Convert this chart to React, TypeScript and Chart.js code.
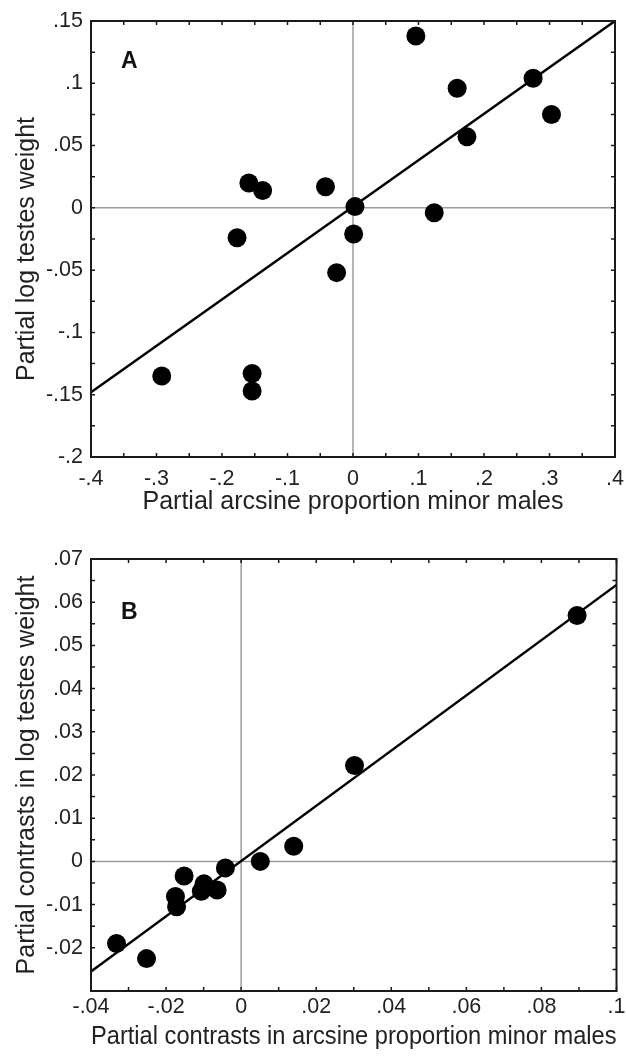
import React, { useEffect, useRef } from "react";
import { Chart, registerables } from "chart.js";

Chart.register(...registerables);

// ---------- Panel A data ----------
const pointsAX = [0.096, 0.159, 0.275, 0.303, 0.174, -0.159, -0.138, -0.042, 0.003, 0.124, -0.177, 0.001, -0.025, -0.292, -0.154, -0.154];
const pointsAY = [0.138, 0.096, 0.104, 0.075, 0.057, 0.020, 0.014, 0.017, 0.001, -0.004, -0.024, -0.021, -0.052, -0.135, -0.133, -0.147];
const fitAX = [-0.4, 0.4];
const fitAY = [-0.148, 0.15];

// ---------- Panel B data ----------
const pointsBX = [0.0895, 0.0302, 0.014, 0.0051, -0.0042, -0.0152, -0.0099, -0.0106, -0.0064, -0.0175, -0.0172, -0.0332, -0.0252];
const pointsBY = [0.0569, 0.0222, 0.0035, 0.0, -0.0015, -0.0034, -0.0052, -0.0069, -0.0066, -0.0081, -0.0105, -0.019, -0.0225];
const fitBX = [-0.04, 0.1];
const fitBY = [-0.0255, 0.064];

const FONT = "'Liberation Sans', Arial, Helvetica, sans-serif";
const TEXT = "#222";

function fmt(v: number): string {
  const n = Number(Number(v).toFixed(4));
  if (Math.abs(n) < 1e-9) return "0";
  return String(n).replace(/^(-?)0\./, "$1.");
}

const framePlugin = {
  id: "frame",
  beforeDatasetsDraw(chart: any) {
    const { ctx, chartArea: a, scales } = chart;
    const x0 = scales.x.getPixelForValue(0);
    const y0 = scales.y.getPixelForValue(0);
    ctx.save();
    ctx.strokeStyle = "#9c9c9c";
    ctx.lineWidth = 1.5;
    ctx.beginPath();
    ctx.moveTo(x0, a.top);
    ctx.lineTo(x0, a.bottom);
    ctx.moveTo(a.left, y0);
    ctx.lineTo(a.right, y0);
    ctx.stroke();
    ctx.restore();
  },
  afterDraw(chart: any, _args: any, opts: any) {
    const { ctx, chartArea: a, scales } = chart;
    const xs = scales.x;
    const ys = scales.y;
    ctx.save();
    ctx.strokeStyle = "#1a1a1a";
    ctx.lineWidth = 1.5;
    const tl = 4;
    ctx.beginPath();
    for (let v = xs.min; v <= xs.max + 1e-9; v += opts.xMinor) {
      const px = xs.getPixelForValue(v);
      ctx.moveTo(px, a.top);
      ctx.lineTo(px, a.top + tl);
      ctx.moveTo(px, a.bottom);
      ctx.lineTo(px, a.bottom - tl);
    }
    for (let v = ys.min; v <= ys.max + 1e-9; v += opts.yMinor) {
      const py = ys.getPixelForValue(v);
      ctx.moveTo(a.left, py);
      ctx.lineTo(a.left + tl, py);
      ctx.moveTo(a.right, py);
      ctx.lineTo(a.right - tl, py);
    }
    ctx.stroke();
    ctx.lineWidth = 2;
    ctx.strokeRect(a.left, a.top, a.right - a.left, a.bottom - a.top);

    // panel letter
    ctx.fillStyle = "#111";
    ctx.font = `bold 23px ${FONT}`;
    ctx.textAlign = "left";
    ctx.textBaseline = "middle";
    ctx.fillText(opts.letter, a.left + 30, a.top + opts.letterDy);

    // y-axis title
    ctx.fillStyle = TEXT;
    ctx.font = `25px ${FONT}`;
    ctx.textAlign = "center";
    ctx.textBaseline = "middle";
    ctx.translate(27, (a.top + a.bottom) / 2 + opts.yTitleDy);
    ctx.rotate(-Math.PI / 2);
    ctx.fillText(opts.yTitle, 0, 0);
    ctx.restore();
  },
};

type PanelCfg = {
  xs: number[];
  ys: number[];
  fx: number[];
  fy: number[];
  xMin: number;
  xMax: number;
  xStep: number;
  xMinor: number;
  yMin: number;
  yMax: number;
  yStep: number;
  yMinor: number;
  xTitle: string;
  yTitle: string;
  yTitleDy: number;
  letter: string;
  letterDy: number;
  height: number;
  padTop: number;
  padRight: number;
  xAxisH: number;
  xTickPad: number;
  xTitlePad: number;
  hideYMin: boolean;
};

function Panel({ cfg, top }: { cfg: PanelCfg; top: number }) {
  const ref = useRef<HTMLCanvasElement | null>(null);
  useEffect(() => {
    if (!ref.current) return;
    const pts = cfg.xs.map((x, i) => ({ x, y: cfg.ys[i] }));
    const fit = cfg.fx.map((x, i) => ({ x, y: cfg.fy[i] }));
    const chart = new Chart(ref.current, {
      type: "scatter",
      data: {
        datasets: [
          {
            type: "line",
            data: fit,
            borderColor: "#000",
            borderWidth: 2.5,
            pointRadius: 0,
            fill: false,
          } as any,
          {
            data: pts,
            backgroundColor: "#000",
            borderWidth: 0,
            pointRadius: 9.5,
            pointHoverRadius: 9.5,
          },
        ],
      },
      options: {
        responsive: false,
        animation: false,
        devicePixelRatio: 1,
        layout: { padding: { top: cfg.padTop, right: cfg.padRight, left: 0, bottom: 0 } },
        plugins: {
          legend: { display: false },
          tooltip: { enabled: false },
          frame: {
            xMinor: cfg.xMinor,
            yMinor: cfg.yMinor,
            letter: cfg.letter,
            letterDy: cfg.letterDy,
            yTitle: cfg.yTitle,
            yTitleDy: cfg.yTitleDy,
          },
        } as any,
        scales: {
          x: {
            type: "linear",
            min: cfg.xMin,
            max: cfg.xMax,
            grid: { display: false, drawTicks: false },
            border: { display: false },
            ticks: {
              stepSize: cfg.xStep,
              autoSkip: false,
              maxRotation: 0,
              padding: cfg.xTickPad,
              color: TEXT,
              font: { family: FONT, size: 21.5 },
              callback: (v: any) => fmt(v),
            },
            title: {
              display: true,
              text: cfg.xTitle,
              color: TEXT,
              font: { family: FONT, size: 25 },
              padding: { top: 0, bottom: cfg.xTitlePad },
            },
            afterFit: (s: any) => {
              s.height = cfg.xAxisH;
              s.paddingLeft = 0;
              s.paddingRight = 0;
            },
          },
          y: {
            type: "linear",
            min: cfg.yMin,
            max: cfg.yMax,
            grid: { display: false, drawTicks: false },
            border: { display: false },
            ticks: {
              stepSize: cfg.yStep,
              autoSkip: false,
              padding: 8,
              color: TEXT,
              font: { family: FONT, size: 21.5 },
              callback: (v: any) => {
                if (cfg.hideYMin && Math.abs(v - cfg.yMin) < 1e-9) return "";
                return fmt(v);
              },
            },
            title: { display: false },
            afterFit: (s: any) => {
              s.width = 91;
              s.paddingTop = 0;
              s.paddingBottom = 0;
            },
          },
        },
      },
      plugins: [framePlugin as any],
    });
    return () => chart.destroy();
  }, []);
  return (
    <canvas
      ref={ref}
      width={626}
      height={cfg.height}
      style={{ position: "absolute", left: 0, top, width: 626, height: cfg.height, display: "block" }}
    />
  );
}

const cfgA: PanelCfg = {
  xs: pointsAX,
  ys: pointsAY,
  fx: fitAX,
  fy: fitAY,
  xMin: -0.4,
  xMax: 0.4,
  xStep: 0.1,
  xMinor: 0.05,
  yMin: -0.2,
  yMax: 0.15,
  yStep: 0.05,
  yMinor: 0.025,
  xTitle: "Partial arcsine proportion minor males",
  yTitle: "Partial log testes weight",
  yTitleDy: 10,
  letter: "A",
  letterDy: 41,
  height: 530,
  padTop: 21,
  padRight: 11,
  xAxisH: 73,
  xTickPad: 9,
  xTitlePad: 13,
  hideYMin: false,
};

const cfgB: PanelCfg = {
  xs: pointsBX,
  ys: pointsBY,
  fx: fitBX,
  fy: fitBY,
  xMin: -0.04,
  xMax: 0.1,
  xStep: 0.02,
  xMinor: 0.01,
  yMin: -0.03,
  yMax: 0.07,
  yStep: 0.01,
  yMinor: 0.005,
  xTitle: "Partial contrasts in arcsine proportion minor males",
  yTitle: "Partial contrasts in log testes weight",
  yTitleDy: 0,
  letter: "B",
  letterDy: 54,
  height: 528,
  padTop: 29,
  padRight: 7,
  xAxisH: 67,
  xTickPad: 3,
  xTitlePad: 6,
  hideYMin: true,
};

export default function App() {
  return (
    <div style={{ position: "absolute", left: 0, top: 0, width: 626, height: 1058, background: "#fff", overflow: "hidden" }}>
      <Panel cfg={cfgA} top={0} />
      <Panel cfg={cfgB} top={530} />
    </div>
  );
}
